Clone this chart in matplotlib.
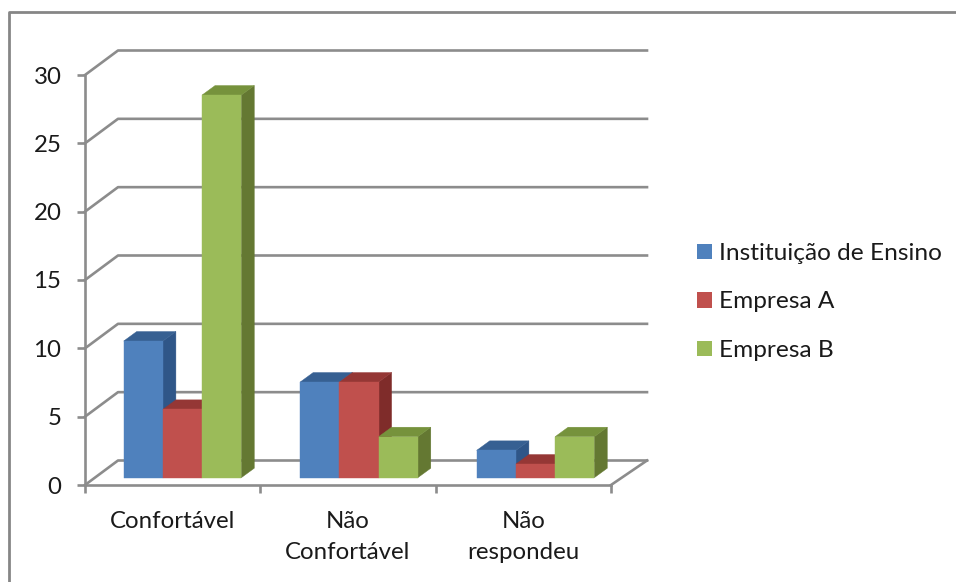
import matplotlib
matplotlib.use("Agg")
import matplotlib.pyplot as plt
from matplotlib.patches import Polygon, Patch
from matplotlib.lines import Line2D

categorias = ["Confortável", "Não\nConfortável", "Não\nrespondeu"]
series = ["Instituição de Ensino", "Empresa A", "Empresa B"]
instituicao = [10, 7, 2]
empresa_a = [5, 7, 1]
empresa_b = [28, 3, 3]
ticks_y = [0, 5, 10, 15, 20, 25, 30]

# frente, topo, lateral
cores = [("#4F81BD", "#376092", "#2F5688"),
         ("#C0504D", "#953735", "#7F2C2A"),
         ("#9BBB59", "#76923C", "#647832")]
cinza = "#8C8C8C"
texto = "#1a1a1a"
fonte = 17.3

plt.rcParams["font.family"] = ["Lato", "DejaVu Sans"]

W, H = 956, 582
fig = plt.figure(figsize=(W / 100, H / 100), dpi=100, facecolor="white")
ax = fig.add_axes([85 / W, 1 - 485 / H, (611 - 85) / W, (485 - 75) / H])
ax.set_xlim(0, 3)
ax.set_ylim(0, 30)

# escala em pixels para os deslocamentos do efeito 3D
px_x = 3 / (611 - 85)
px_y = 30 / (485 - 75)


def poli(pts, cor, z):
    ax.add_patch(Polygon(pts, closed=True, facecolor=cor, edgecolor=cor, lw=0.3,
                         zorder=z, clip_on=False))


# paredes do fundo
prof_y = 24.5 * px_y
esq = 33 * px_x
dir_ = 3 + 36 * px_x
for v in ticks_y:
    ax.add_line(Line2D([0, esq, dir_], [v, v + prof_y, v + prof_y], color=cinza,
                       lw=1.9, zorder=1, clip_on=False))
ax.add_line(Line2D([3, dir_], [0, prof_y], color=cinza, lw=1.9, zorder=1, clip_on=False))

# barras
larg = 39.2 * px_x
frente_x = 38.7 * px_x
passo = 176.5 * px_x
frente_y = 7.3 * px_y
dx = 13 * px_x
dy = 9.5 * px_y
z = 3
for i in range(len(categorias)):
    for j, valores in enumerate([instituicao, empresa_a, empresa_b]):
        v = valores[i]
        x0 = i * passo + frente_x + j * larg
        x1 = x0 + larg
        y0 = frente_y
        y1 = frente_y + v
        frente, topo, lateral = cores[j]
        poli([(x1, y0), (x1 + dx, y0 + dy), (x1 + dx, y1 + dy), (x1, y1)], lateral, z)
        poli([(x0, y1), (x1, y1), (x1 + dx, y1 + dy), (x0 + dx, y1 + dy)], topo, z + 1)
        poli([(x0, y0), (x1, y0), (x1, y1), (x0, y1)], frente, z + 2)
        z += 3

# eixos
for lado in ["top", "right"]:
    ax.spines[lado].set_visible(False)
for lado in ["left", "bottom"]:
    ax.spines[lado].set_color(cinza)
    ax.spines[lado].set_linewidth(1.9)
    ax.spines[lado].set_zorder(2)
ax.set_yticks(ticks_y)
ax.set_xticks([0, 1, 2, 3])
ax.set_xticklabels([])
ax.set_xticks([0.5, 1.5, 2.5], categorias, minor=True)
ax.tick_params(axis="both", which="major", color=cinza, width=1.9, length=6,
               labelsize=fonte, labelcolor=texto, pad=11)
ax.tick_params(axis="x", which="minor", length=0, labelsize=fonte,
               labelcolor=texto, pad=18.5)
for rotulo in ax.get_xticklabels(minor=True):
    rotulo.set_linespacing(1.6)
ax.patch.set_alpha(0)

# legenda
handles = [Patch(facecolor=c[0], edgecolor="none") for c in cores]
fig.legend(handles, series, loc="center left", bbox_to_anchor=(697 / W, 1 - 302 / H),
           frameon=False, fontsize=17.6, labelcolor=texto, handlelength=0.6,
           handleheight=0.6, handletextpad=0.32, labelspacing=1.13,
           borderpad=0, borderaxespad=0)

# moldura
fig.add_artist(Line2D([9 / W, 9 / W, 1], [0, 1 - 12 / H, 1 - 12 / H], color="#868686",
                      lw=2, transform=fig.transFigure))

fig.savefig("out.png", dpi=100)
